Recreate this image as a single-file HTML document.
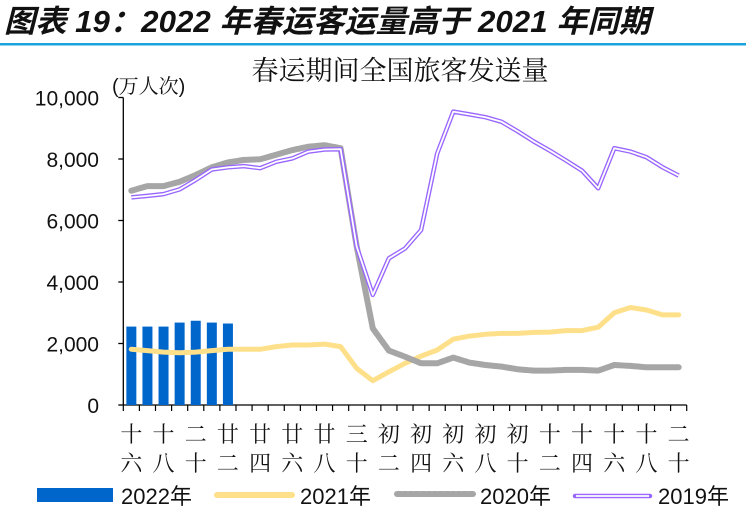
<!DOCTYPE html>
<html><head><meta charset="utf-8">
<style>
body{margin:0;background:#fff;width:746px;height:519px;overflow:hidden;}
svg{display:block;}
</style></head>
<body>
<svg id="c" width="746" height="519" xmlns="http://www.w3.org/2000/svg">
<text x="4" y="32" font-family="Liberation Sans, Noto Sans CJK SC, sans-serif" font-size="31" font-weight="bold" font-style="italic" fill="#111" textLength="646" lengthAdjust="spacingAndGlyphs">图表 19：2022 年春运客运量高于 2021 年同期</text>
<rect x="0" y="43" width="746" height="2.5" fill="#1aa3dc"/>
<text x="400" y="80" text-anchor="middle" font-family="Noto Serif CJK SC, serif" font-size="27" fill="#111">春运期间全国旅客发送量</text>
<text x="112" y="93" font-family="Liberation Sans, Noto Serif CJK SC, serif" font-size="20" fill="#111">(万人次)</text>
<g id="axes"></g>
<g id="marks"></g>
<g id="legend"></g>
</svg>
<script>
const categories=['十六','十七','十八','十九','二十','廿一','廿二','廿三','廿四','廿五','廿六','廿七','廿八','廿九','三十','初一','初二','初三','初四','初五','初六','初七','初八','初九','初十','十一','十二','十三','十四','十五','十六','十七','十八','十九','二十'];
const s2022=[2550,2550,2550,2680,2740,2680,2650];
const s2021=[1810,1770,1720,1700,1720,1770,1810,1810,1810,1900,1950,1950,1980,1900,1190,790,1080,1355,1590,1790,2140,2240,2300,2330,2330,2360,2370,2420,2420,2530,3000,3170,3090,2930,2930];
const s2020=[6970,7120,7120,7260,7480,7730,7890,7970,7990,8140,8290,8400,8450,8350,5150,2490,1770,1570,1355,1355,1540,1380,1300,1250,1160,1120,1120,1140,1140,1120,1300,1270,1225,1225,1225];
const s2019=[6750,6800,6860,7010,7320,7660,7730,7770,7700,7910,8020,8240,8310,8320,5150,3580,4770,5090,5690,8180,9540,9450,9360,9210,8900,8570,8270,7950,7620,7050,8350,8240,8060,7730,7460];
const yTicks=[0,2000,4000,6000,8000,10000];
const yTickLabels=['0','2,000','4,000','6,000','8,000','10,000'];
const NS='http://www.w3.org/2000/svg';
const X0=123.3,X1=686.7,Y0=405,Y1=97.5;
const bw=(X1-X0)/categories.length;
const xs=i=>X0+bw*(i+0.5);
const ys=v=>Y0-(v/10000)*(Y0-Y1);
function mk(tag,attrs,parent){const e=document.createElementNS(NS,tag);for(const k in attrs)e.setAttribute(k,attrs[k]);parent.appendChild(e);return e;}
const axes=document.getElementById('axes'),marks=document.getElementById('marks'),leg=document.getElementById('legend');
let e;
e=mk('line',{x1:X0,y1:Y1,x2:X0,y2:Y0,stroke:'#000','stroke-width':1.3},axes);


e=mk('line',{x1:X0,y1:Y0,x2:X1,y2:Y0,stroke:'#000','stroke-width':1.3},axes);


yTicks.forEach((v,i)=>{
 mk('line',{x1:X0-5,y1:ys(v),x2:X0,y2:ys(v),stroke:'#000','stroke-width':1.3},axes);
 const t=mk('text',{x:99,y:ys(v)+8,'text-anchor':'end','font-family':'Liberation Sans, sans-serif','font-size':21,fill:'#111'},axes);
 t.textContent=yTickLabels[i];
 
 
});
for(let i=0;i<=categories.length;i++){mk('line',{x1:X0+bw*i,y1:Y0,x2:X0+bw*i,y2:Y0+6,stroke:'#000','stroke-width':1.2},axes);}
categories.forEach((c,i)=>{
 if(i%2)return;
 [0,1].forEach(r=>{
  const t=mk('text',{x:xs(i),y:442+r*29,'text-anchor':'middle','font-family':'Noto Serif CJK SC, serif','font-size':22,fill:'#111'},axes);
  t.textContent=c[r];
  
  
 });
});
s2022.forEach((v,i)=>{
 const r=mk('rect',{x:xs(i)-5,y:ys(v),width:10,height:Y0-ys(v),fill:'#0066cc'},marks);
 
 
});
function pts(a){return a.map((v,i)=>xs(i).toFixed(1)+','+ys(v).toFixed(1)).join(' ');}
e=mk('polyline',{points:pts(s2021),fill:'none',stroke:'#ffe08a','stroke-width':5,'stroke-linejoin':'round','stroke-linecap':'round'},marks);


e=mk('polyline',{points:pts(s2020),fill:'none',stroke:'#a6a6a6','stroke-width':6,'stroke-linejoin':'round','stroke-linecap':'round','stroke-dasharray':'5 1'},marks);


e=mk('polyline',{points:pts(s2019),fill:'none',stroke:'#9966ff','stroke-width':4.5,'stroke-linejoin':'round'},marks);


mk('polyline',{points:pts(s2019),fill:'none',stroke:'#fff','stroke-width':1.8,'stroke-linejoin':'round'},marks);
e=mk('rect',{x:37,y:488,width:76,height:14,fill:'#0066cc'},leg);


e=mk('line',{x1:217,y1:495,x2:292,y2:495,stroke:'#ffe08a','stroke-width':6,'stroke-linecap':'round'},leg);


e=mk('line',{x1:397,y1:494,x2:473,y2:494,stroke:'#a6a6a6','stroke-width':6,'stroke-linecap':'round','stroke-dasharray':'4 2'},leg);


e=mk('line',{x1:575,y1:496,x2:650,y2:496,stroke:'#9966ff','stroke-width':4.5,'stroke-linecap':'round'},leg);


mk('line',{x1:576,y1:496,x2:649,y2:496,stroke:'#fff','stroke-width':1.8},leg);
[['2022年',121],['2021年',300],['2020年',480],['2019年',658]].forEach(([s,x])=>{
 const t=mk('text',{x:x,y:504,'font-family':'Liberation Sans, Noto Sans CJK SC, sans-serif','font-size':22,fill:'#111'},leg);
 t.textContent=s;
 
 
});
</script>
</body></html>
